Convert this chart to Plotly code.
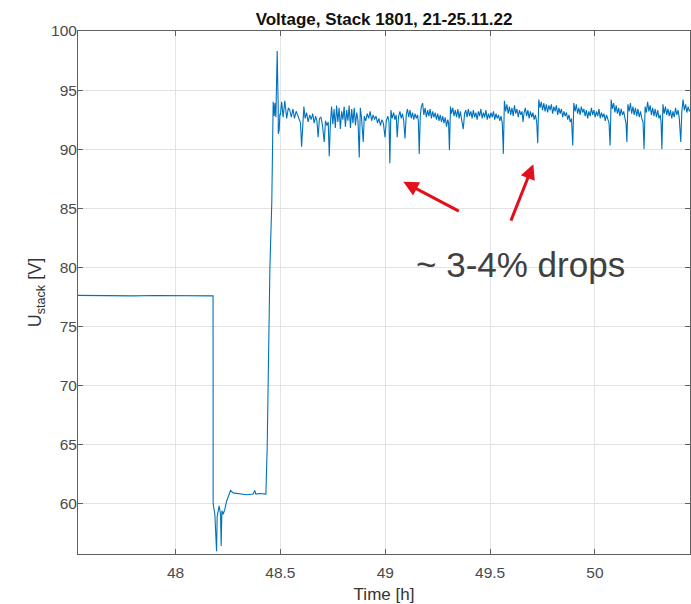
import plotly.graph_objects as go

# ---- data ----
t_idle = [47.535, 47.60, 47.70, 47.80, 47.90, 48.00, 48.10, 48.179]
u_idle = [77.62, 77.60, 77.63, 77.58, 77.61, 77.60, 77.62, 77.58]

t_trans = [48.1794, 48.1875, 48.1956, 48.1985, 48.208, 48.2147, 48.2176, 48.221,
           48.2271, 48.2352, 48.2433, 48.2624, 48.2748, 48.3068, 48.3387, 48.370,
           48.3783, 48.383, 48.402, 48.4308, 48.437, 48.450, 48.459, 48.4656,
           48.4704, 48.4738, 48.4785, 48.4819, 48.4847, 48.4895, 48.490, 48.4943,
           48.4976]
u_trans = [60.0, 59.1, 55.96, 58.9, 59.8, 59.1, 56.4, 59.4,
           59.1, 59.5, 60.2, 61.1, 60.9, 60.8, 60.75, 60.8,
           61.1, 60.8, 60.85, 60.8, 64.7, 80.0, 85.5, 94.0,
           92.8, 93.9, 92.7, 95.8, 98.3, 93.6, 91.3, 91.6,
           93.0]

t_run = [
    48.500, 48.506, 48.513, 48.521, 48.530, 48.538, 48.545, 48.552, 48.560, 48.567,
    48.575, 48.582, 48.590, 48.596, 48.601, 48.606, 48.612, 48.618, 48.625, 48.632,
    48.640, 48.647, 48.654, 48.661, 48.668, 48.674, 48.680, 48.686, 48.693, 48.700,
    48.709, 48.715, 48.722, 48.728, 48.733, 48.738, 48.744, 48.750, 48.756, 48.762,
    48.768, 48.774, 48.780, 48.786, 48.792, 48.798, 48.804, 48.810, 48.816, 48.822,
    48.828, 48.834, 48.840, 48.846, 48.852, 48.858, 48.864, 48.870, 48.876, 48.881,
    48.887, 48.895, 48.900, 48.907, 48.914, 48.921, 48.928, 48.935, 48.942, 48.949,
    48.956, 48.963, 48.970, 48.977, 48.984, 48.991, 48.999, 49.005, 49.012, 49.018,
    49.022, 49.027, 49.033, 49.040, 49.046, 49.052, 49.057, 49.063, 49.070, 49.076,
    49.082, 49.088, 49.094, 49.100, 49.106, 49.112, 49.118, 49.124, 49.130, 49.136,
    49.142, 49.148, 49.154, 49.158, 49.162, 49.167, 49.172, 49.178, 49.184, 49.190,
    49.196, 49.202, 49.208, 49.214, 49.220, 49.226, 49.232, 49.238, 49.244, 49.250,
    49.256, 49.262, 49.268, 49.274, 49.280, 49.286, 49.292, 49.298, 49.302, 49.306,
    49.311, 49.316, 49.322, 49.328, 49.334, 49.340, 49.346, 49.352, 49.358, 49.364,
    49.372, 49.378, 49.384, 49.390, 49.396, 49.402, 49.408, 49.414, 49.420, 49.426,
    49.432, 49.438, 49.444, 49.450, 49.456, 49.462, 49.468, 49.474, 49.480, 49.486,
    49.492, 49.498, 49.504, 49.510, 49.516, 49.522, 49.528, 49.534, 49.540, 49.546,
    49.552, 49.558, 49.563, 49.568, 49.574, 49.580, 49.586, 49.592, 49.598, 49.604,
    49.610, 49.616, 49.622, 49.628, 49.634, 49.640, 49.646, 49.652, 49.657, 49.662,
    49.668, 49.674, 49.680, 49.686, 49.692, 49.698, 49.704, 49.710, 49.716, 49.722,
    49.727, 49.732, 49.738, 49.744, 49.750, 49.756, 49.762, 49.768, 49.774, 49.780,
    49.786, 49.792, 49.798, 49.804, 49.810, 49.816, 49.822, 49.828, 49.834, 49.840,
    49.846, 49.852, 49.858, 49.864, 49.870, 49.876, 49.882, 49.888, 49.894, 49.899,
    49.905, 49.911, 49.917, 49.923, 49.929, 49.935, 49.941, 49.947, 49.953, 49.959,
    49.965, 49.971, 49.977, 49.983, 49.989, 49.995, 50.001, 50.007, 50.013, 50.019,
    50.025, 50.031, 50.037, 50.043, 50.049, 50.055, 50.061, 50.067, 50.072, 50.077,
    50.083, 50.089, 50.095, 50.101, 50.107, 50.113, 50.119, 50.125, 50.131, 50.137,
    50.143, 50.148, 50.152, 50.157, 50.163, 50.169, 50.175, 50.181, 50.187, 50.193,
    50.199, 50.205, 50.211, 50.217, 50.223, 50.229, 50.234, 50.239, 50.245, 50.251,
    50.257, 50.263, 50.269, 50.275, 50.281, 50.287, 50.293, 50.299, 50.305, 50.311,
    50.315, 50.319, 50.324, 50.330, 50.336, 50.342, 50.348, 50.354, 50.360, 50.366,
    50.372, 50.378, 50.384, 50.390, 50.396, 50.402, 50.409, 50.414, 50.420, 50.426,
    50.432, 50.438, 50.444, 50.450, 50.456]
u_run = [
    92.9, 94.0, 92.7, 94.1, 92.6, 93.5, 93.3, 92.7, 93.4, 92.6,
    93.2, 92.9, 92.5, 92.2, 90.2, 92.4, 93.6, 92.6, 93.1, 92.3,
    92.9, 92.5, 93.0, 92.2, 92.8, 92.4, 91.0, 92.6, 92.7, 92.1,
    90.6, 92.4, 92.0, 92.3, 89.4, 92.0, 93.6, 92.1, 93.4, 91.8,
    93.7, 92.3, 93.5, 91.7, 93.2, 92.5, 93.6, 91.9, 93.3, 92.4,
    93.7, 91.8, 93.4, 92.2, 93.5, 92.0, 93.1, 92.4, 89.3, 93.5,
    92.6, 90.6, 92.8, 92.4, 93.0, 92.6, 93.2, 92.4, 92.9, 92.5,
    92.8, 92.2, 92.6, 92.0, 92.5, 92.2, 91.0, 92.4, 92.8, 92.3,
    88.8, 93.3, 92.6, 93.1, 92.5, 92.9, 91.0, 92.7, 93.2, 92.6,
    93.0, 92.4, 90.9, 92.9, 93.4, 92.7, 93.3, 92.6, 93.1, 92.5,
    93.0, 92.6, 92.9, 92.3, 89.6, 92.8, 93.6, 93.9, 92.9, 93.5,
    92.7, 93.3, 92.8, 93.4, 92.6, 93.2, 92.7, 93.1, 92.5, 93.0,
    92.4, 92.9, 92.3, 92.8, 92.2, 92.7, 91.9, 92.5, 92.2, 89.9,
    93.6, 93.0, 93.5, 92.8, 93.3, 92.7, 93.4, 92.6, 93.2, 92.5,
    91.7, 93.0, 93.3, 92.7, 93.4, 92.8, 93.2, 92.6, 93.3, 92.7,
    93.1, 92.5, 93.2, 92.8, 93.4, 92.6, 93.1, 92.7, 93.3, 92.5,
    93.0, 92.6, 93.1, 92.7, 93.2, 92.5, 93.0, 92.6, 92.9, 92.4,
    92.8, 92.2, 89.6, 94.1, 93.2, 93.8, 93.0, 93.6, 92.9, 93.5,
    92.8, 93.7, 93.0, 93.4, 92.7, 93.3, 92.9, 93.2, 92.3, 93.1,
    93.5, 92.8, 93.3, 92.6, 93.2, 92.7, 93.1, 92.5, 92.9, 92.3,
    90.5, 94.2, 93.5, 94.0, 93.3, 93.9, 93.2, 93.8, 93.1, 93.7,
    93.3, 93.8, 93.0, 93.6, 93.2, 93.7, 92.9, 93.5, 93.0, 93.4,
    92.7, 93.2, 92.8, 93.1, 92.5, 92.9, 92.3, 92.6, 90.3, 93.9,
    93.2, 93.8, 93.0, 93.5, 92.9, 93.6, 93.1, 93.4, 92.8, 93.3,
    92.6, 93.2, 92.8, 93.5, 92.9, 93.3, 92.7, 93.2, 92.8, 93.4,
    92.6, 93.1, 92.7, 93.0, 92.4, 92.9, 92.5, 92.2, 90.3, 94.2,
    93.4, 93.9, 93.1, 93.7, 93.0, 93.5, 92.8, 93.4, 92.9, 93.2,
    92.6, 92.2, 90.6, 93.8, 93.2, 93.9, 93.0, 93.6, 92.9, 93.5,
    92.8, 93.4, 92.7, 93.2, 92.6, 92.3, 90.0, 93.6, 93.1, 94.0,
    93.2, 93.7, 92.9, 93.5, 92.8, 93.4, 92.7, 93.3, 92.6, 92.9,
    92.3, 90.0, 93.8, 93.0, 93.6, 92.9, 93.4, 92.8, 93.3, 92.6,
    93.2, 92.7, 93.5, 92.9, 93.3, 92.6, 90.6, 93.2, 94.2, 93.3,
    93.8, 93.1, 93.6, 93.2, 93.4]

x_ticks = [48, 48.5, 49, 49.5, 50]
y_ticks = [60, 65, 70, 75, 80, 85, 90, 95, 100]
x_range = [47.535, 50.453]
y_range = [55.73, 100]

title_text = "<b>Voltage, Stack 1801, 21-25.11.22</b>"
note_text = "~ 3-4% drops"
# arrow heads (data coords) of the two red annotation arrows
arrow_x = [49.086, 49.706]
arrow_y = [87.23, 88.73]

# ---- figure ----
t_all = t_idle + t_trans + t_run
u_all = u_idle + u_trans + u_run

fig = go.Figure()
fig.add_trace(go.Scatter(x=t_all, y=u_all, mode="lines",
                         line=dict(color="#0072BD", width=1.1),
                         showlegend=False, hoverinfo="skip"))

font_family = "Liberation Sans, Arial, sans-serif"
axis_common = dict(
    showline=True, linecolor="#606060", linewidth=1, mirror="ticks",
    ticks="inside", ticklen=5, tickcolor="#606060", tickwidth=1,
    showgrid=True, gridcolor="#e3e3e3", gridwidth=1, zeroline=False,
    tickfont=dict(family=font_family, size=15.5, color="#4a4a4a"),
)

fig.update_xaxes(range=x_range, tickvals=x_ticks, ticklabelstandoff=4,
                 title=dict(text="Time [h]", standoff=10,
                            font=dict(family=font_family, size=17, color="#333333")),
                 **axis_common)
fig.update_yaxes(range=y_range, tickvals=y_ticks, ticklabelstandoff=-3,
                 title=dict(text="U<sub>stack</sub> [V]", standoff=4,
                            font=dict(family=font_family, size=18, color="#333333")),
                 **axis_common)

fig.update_layout(
    width=691, height=604,
    margin=dict(l=78, r=1, t=31, b=50, autoexpand=False),
    plot_bgcolor="white", paper_bgcolor="white",
    title=dict(text=title_text, x=0.5, xref="paper", xanchor="center",
               y=1 - 19 / 604, yref="container", yanchor="middle",
               font=dict(family=font_family, size=17, color="#111111")),
)

# annotation arrows
offsets = [(57, 30), (-23, 58)]
for ax_, (dx, dy), ay_ in zip(arrow_x, offsets, arrow_y):
    fig.add_annotation(x=ax_, y=ay_, xref="x", yref="y", ax=dx, ay=dy,
                       axref="pixel", ayref="pixel", text="", showarrow=True,
                       arrowhead=2, arrowsize=1, arrowwidth=3, arrowcolor="#e3101b")

fig.add_annotation(x=49.645, y=80.2, xref="x", yref="y", text=note_text,
                   showarrow=False, xanchor="center", yanchor="middle",
                   font=dict(family=font_family, size=35, color="#404040"))

fig.write_html("out.html")
